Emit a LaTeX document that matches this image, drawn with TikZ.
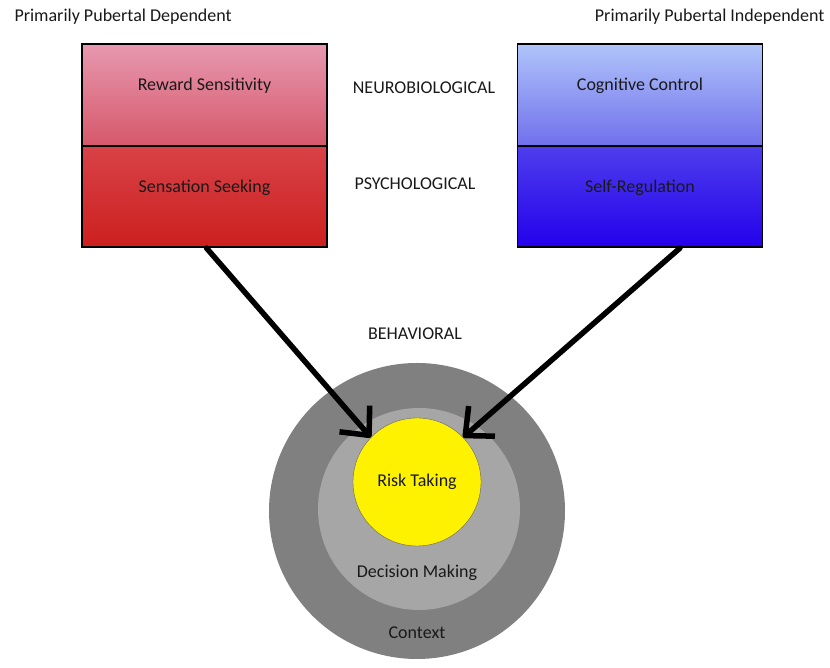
\documentclass[tikz,border=0pt]{standalone}
\usepackage{fontspec}
\setmainfont{Carlito}
\usetikzlibrary{arrows.meta, positioning}
\definecolor{pinktop}{RGB}{231,152,176}
\definecolor{pinkbot}{RGB}{214,88,106}
\definecolor{redtop}{RGB}{216,66,72}
\definecolor{redbot}{RGB}{204,32,30}
\definecolor{lbluetop}{RGB}{176,196,250}
\definecolor{lbluebot}{RGB}{112,112,236}
\definecolor{bluetop}{RGB}{78,62,236}
\definecolor{bluebot}{RGB}{36,0,236}
\definecolor{ctxgray}{RGB}{128,128,128}
\definecolor{dmgray}{RGB}{166,166,166}

\begin{document}
\begin{tikzpicture}[x=1pt,y=1pt,node distance=60pt,on grid,
    font=\fontsize{18}{21}\selectfont,text=black!90]
    \tikzstyle{half}=[shape=rectangle,draw,line width=1.6pt,minimum width=245pt,minimum height=101.5pt,
      text height=13pt,text depth=21pt,shading=axis,shading angle=0]
    \tikzstyle{disc}=[shape=circle,inner sep=0pt]
    \tikzstyle{push}=[line width=5.5pt,line cap=round,-{Straight Barb[length=22pt,width=40pt,line join=round]}]

    \useasboundingbox (0,0) rectangle (830,668);

    % headings
    \node[anchor=west] (dep) at (11,651) {Primarily Pubertal Dependent};
    \node[anchor=east] (indep) at (828,651) {Primarily Pubertal Independent};

    % left block
    \node[half,top color=pinktop,bottom color=pinkbot] (rs) at (204.5,573) {Reward Sensitivity};
    \node[half,top color=redtop,bottom color=redbot,below=101.5pt of rs] (ss) {Sensation Seeking};

    % right block
    \node[half,top color=lbluetop,bottom color=lbluebot] (cc) at (640,573) {Cognitive Control};
    \node[half,top color=bluetop,bottom color=bluebot,below=101.5pt of cc] (sr) {Self-Regulation};

    % levels
    \node (neuro) at (424,580) {NEUROBIOLOGICAL};
    \node (psych) at (415,484) {PSYCHOLOGICAL};
    \node (behav) at (415,334) {BEHAVIORAL};

    % nested circles
    \node[disc,fill=ctxgray,minimum size=296pt] (ctx) at (417,157) {};
    \node[disc,fill=dmgray,minimum size=202pt] (dm) at (419,159) {};
    \node[disc,fill=yellow,draw=black!60,thin,minimum size=128pt] (risk) at (417,186) {Risk Taking};
    \node[below=91pt of risk] (dmtext) {Decision Making};
    \node[below=of dmtext] (ctxtext) {Context};

    \draw[push] ([xshift=2pt]ss.south) -- (risk.136);
    \draw[push] ([xshift=40pt]sr.south) -- (risk.44);
\end{tikzpicture}
\end{document}
